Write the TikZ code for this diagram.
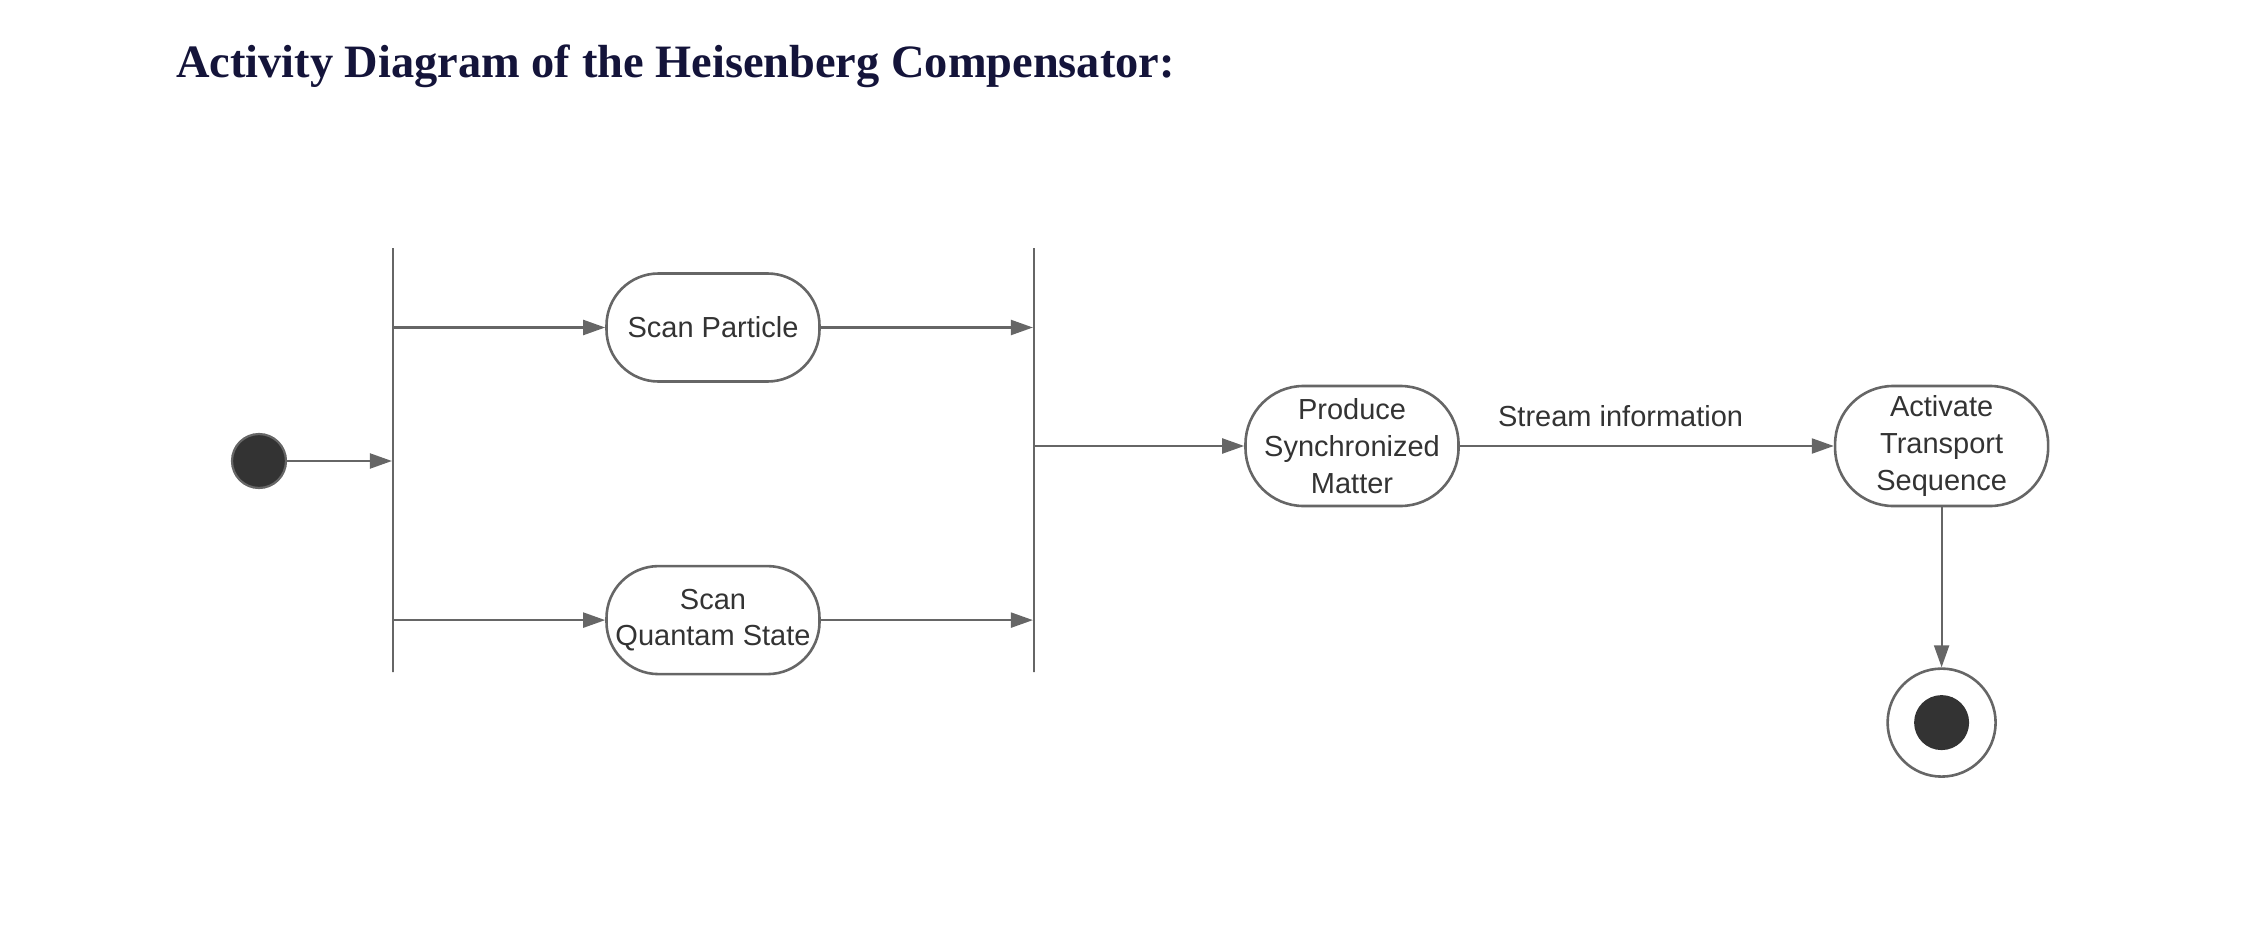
\documentclass[tikz,border=0pt]{standalone}
\usepackage{fontspec}
\setmainfont{Liberation Serif}
\newfontfamily\diagfont{Liberation Sans}
\usetikzlibrary{arrows.meta}
\usetikzlibrary{positioning}
\definecolor{linegray}{HTML}{666666}
\definecolor{textgray}{HTML}{333333}
\definecolor{dotgray}{HTML}{333333}
\definecolor{titleblue}{HTML}{14143A}

\begin{document}
\begin{tikzpicture}[->,>={Triangle[length=11pt,width=7.5pt]},line width=1.1pt,color=linegray,x=0.5pt,y=-0.5pt]
\tikzstyle{activity} = [rectangle, draw=linegray, line width=1.3pt, rounded corners=26pt, minimum width=106.5pt, minimum height=54pt, align=center, text=textgray, font=\diagfont\fontsize{14.5pt}{18.4pt}\selectfont]
\tikzstyle{bigactivity} = [activity, minimum height=60pt, rounded corners=29pt]
\tikzstyle{bar} = [rectangle, draw=linegray, line width=1.1pt, minimum width=0pt, minimum height=212pt, inner sep=0pt]
\tikzstyle{startdot} = [circle, draw=linegray, line width=1.1pt, fill=dotgray, minimum size=27pt, inner sep=0pt]
\tikzstyle{finalring} = [circle, draw=linegray, line width=1.3pt, fill=white, minimum size=54pt, inner sep=0pt]
\tikzstyle{finaldot} = [circle, fill=dotgray, minimum size=27.5pt, inner sep=0pt]
\tikzstyle{flowlabel} = [inner sep=0pt, text=textgray, font=\diagfont\fontsize{14.5pt}{18.4pt}\selectfont]

\useasboundingbox (0,0) rectangle (2259,931);

\node[anchor=base west, inner sep=0pt, text=titleblue, font=\bfseries\fontsize{23.2pt}{28pt}\selectfont] (title) at (175,78) {Activity Diagram of the Heisenberg Compensator:};

\node[startdot] (start) at (259,461) {};
\node[bar] (fork) at (393,460) {};
\node[activity] (scanP) at (713,327.5) {Scan Particle};
\node[activity] (scanQ) [below=91pt of scanP] {Scan\\Quantam State};
\node[bar] (join) at (1034,460) {};
\node[bigactivity] (produce) at (1352,446) {Produce\\Synchronized\\Matter};
\node[bigactivity] (activate) [right=187pt of produce] {Activate\\Transport\\Sequence};
\node[finalring] (end) [below=80pt of activate] {};
\node[finaldot] (enddot) at (end) {};

\draw (start) -- (start -| fork.west);
\foreach \n in {scanP,scanQ}
{
   \draw (fork.east |- \n) -- (\n);
   \draw (\n) -- (\n -| join.west);
}
\draw (join.east |- produce) -- (produce);
\draw (produce) -- node[flowlabel, pos=0.43, above=9pt] (stream) {Stream information} (activate);
\draw (activate) -- (end);

\end{tikzpicture}
\end{document}
